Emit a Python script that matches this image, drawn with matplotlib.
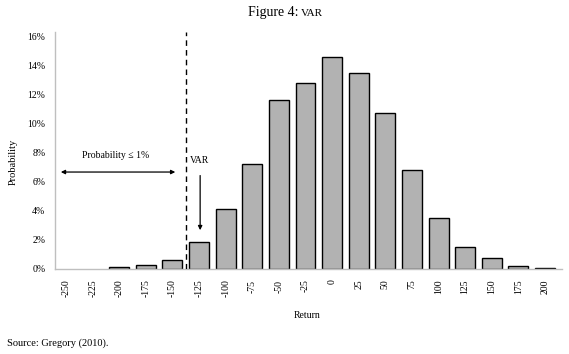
import numpy as np
import matplotlib
matplotlib.use("Agg")
import matplotlib.pyplot as plt

plt.rcParams['font.family'] = ['Liberation Serif', 'DejaVu Serif']

returns = ['-250', '-225', '-200', '-175', '-150', '-125', '-100', '-75', '-50', '-25',
           '0', '25', '50', '75', '100', '125', '150', '175', '200']
prob = [0.0, 0.0, 0.1, 0.25, 0.6, 1.8, 4.1, 7.2, 11.6, 12.8,
        14.6, 13.5, 10.7, 6.8, 3.5, 1.5, 0.75, 0.2, 0.05]
yticks = [0, 2, 4, 6, 8, 10, 12, 14, 16]
ylabels = ['0%', '2%', '4%', '6%', '8%', '10%', '12%', '14%', '16%']

fig = plt.figure(figsize=(5.69, 3.54), dpi=100)
ax = fig.add_axes([0.0967, 0.2415, 0.891, 0.668])

x = np.arange(len(returns))
# no outline on empty categories
lws = [1.0 if p > 0 else 0 for p in prob]
ax.bar(x, prob, width=0.75, color='#b2b2b2', edgecolor='black', linewidth=lws, zorder=2)

ax.set_xlim(-0.414, 18.64)
ax.set_ylim(0, 16.3)
ax.set_xticks(x)
ax.set_xticklabels(returns, rotation=90, fontsize=7)
ax.set_yticks(yticks)
ax.set_yticklabels(ylabels, fontsize=7)
ax.tick_params(axis='both', length=0)
ax.tick_params(axis='x', pad=8)
ax.tick_params(axis='y', pad=7)

for s in ['top', 'right']:
    ax.spines[s].set_visible(False)
for s in ['left', 'bottom']:
    ax.spines[s].set_color('#bfbfbf')
    ax.spines[s].set_linewidth(1.0)

# VaR cut-off
ax.axvline(4.5, color='black', linestyle=(0, (4, 3)), linewidth=1.0, zorder=3)

ax.annotate('', xy=(-0.3, 6.65), xytext=(4.21, 6.65),
            arrowprops=dict(arrowstyle='<|-|>', color='black', lw=0.9,
                            mutation_scale=6))
ax.text(1.88, 7.8, 'Probability ≤ 1%', fontsize=7, ha='center', va='center')

ax.text(4.67, 7.45, 'VAR', fontsize=7, ha='left', va='center')
ax.annotate('', xy=(5.04, 2.45), xytext=(5.04, 6.6),
            arrowprops=dict(arrowstyle='-|>', color='black', lw=0.9,
                            mutation_scale=6))

fig.text(13 / 569, 1 - 162 / 354, 'Probability', rotation=90, fontsize=7.5,
         ha='center', va='center')
fig.text(307 / 569, 1 - 315 / 354, 'Return', fontsize=7, ha='center', va='center')

fig.text(298 / 569, 1 - 16 / 354, 'Figure 4:', fontsize=10, ha='right', va='baseline')
fig.text(301 / 569, 1 - 16 / 354, 'VAR', fontsize=8, ha='left', va='baseline')

fig.text(7 / 569, 1 - 343 / 354, 'Source: Gregory (2010).', fontsize=7.5,
         ha='left', va='center')

fig.savefig('out.png', dpi=100)
